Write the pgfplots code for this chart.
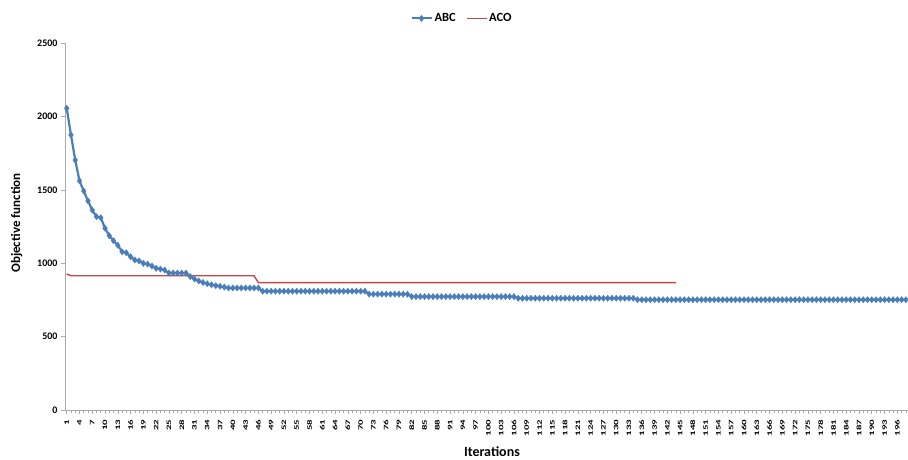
\documentclass[border=0pt]{standalone}
\usepackage{fontspec}
\setmainfont{Carlito}
\usepackage{graphicx}
\usepackage{pgfplots}
\pgfplotsset{compat=1.18}
\definecolor{abcblue}{RGB}{74,126,187}
\definecolor{acored}{RGB}{190,75,72}
\definecolor{axisgray}{RGB}{170,170,170}
\begin{document}
\begin{tikzpicture}
\useasboundingbox (-65pt,-49pt) rectangle (843pt,410pt);
\clip (-65pt,-49pt) rectangle (843pt,410pt);
\begin{axis}[
  at={(0pt,0pt)}, anchor=south west,
  scale only axis, width=843pt, height=366.7pt,
  xmin=0.6, xmax=198.5, ymin=0, ymax=2500,
  axis x line*=bottom, axis y line*=left,
  axis line style={axisgray, line width=0.8pt, -},
  tick align=outside,
  major tick length=4pt, minor tick length=3pt,
  tick style={axisgray, line width=0.6pt},
  xtick={1,4,...,196},
  minor xtick={1,...,198},
  ytick={0,500,...,2500},
  xticklabel={\scalebox{1.6}[1]{\pgfmathprintnumber{\tick}}},
  xticklabel style={rotate=90, anchor=east, font=\bfseries\fontsize{6.8}{7}\selectfont},
  xticklabel shift={2pt},
  yticklabel style={font=\bfseries\fontsize{10}{12}\selectfont},
  /pgf/number format/assume math mode=true,
  /pgf/number format/1000 sep={},
  ylabel={Objective function},
  ylabel style={at={(axis description cs:-0.0575,0.51)}, anchor=center, font=\bfseries\fontsize{13}{15}\selectfont},
  xlabel={Iterations},
  xlabel style={at={(axis description cs:0.5065,-0.1268)}, anchor=base, font=\bfseries\fontsize{14}{16}\selectfont},
  legend style={at={(axis description cs:0.471,1.068)}, anchor=center, draw=none, fill=none,
    font=\bfseries\fontsize{12.5}{14}\selectfont, /tikz/every even column/.append style={column sep=8pt}},
  legend columns=2,
  legend image code/.code={\draw[mark repeat=2,mark phase=2,#1] plot coordinates {(0pt,0pt) (10pt,0pt) (20pt,0pt)};},
  clip=true,
]
\addplot[color=abcblue, line width=2.2pt, mark=diamond*, mark size=3.2pt, mark options={fill=abcblue, draw=abcblue, line width=0.3pt}]
coordinates {
(1,2057) (2,1875) (3,1704) (4,1563) (5,1493) (6,1425) (7,1363) (8,1318) (9,1311) (10,1239)
(11,1188) (12,1154) (13,1123) (14,1079) (15,1072) (16,1045) (17,1023) (18,1016) (19,1000) (20,995)
(21,982) (22,966) (23,961) (24,954) (25,934) (26,934) (27,934) (28,934) (29,934) (30,910)
(31,893) (32,880) (33,869) (34,861) (35,854) (36,848) (37,843) (38,838) (39,832) (40,832)
(41,832) (42,832) (43,832) (44,832) (45,832) (46,832) (47,810) (48,810) (49,810) (50,810)
(51,810) (52,810) (53,810) (54,810) (55,810) (56,810) (57,810) (58,810) (59,810) (60,810)
(61,810) (62,810) (63,810) (64,810) (65,810) (66,810) (67,810) (68,810) (69,810) (70,810)
(71,810) (72,790) (73,790) (74,790) (75,790) (76,790) (77,790) (78,790) (79,790) (80,790)
(81,790) (82,773) (83,773) (84,773) (85,773) (86,773) (87,773) (88,773) (89,773) (90,773)
(91,773) (92,773) (93,773) (94,773) (95,773) (96,773) (97,773) (98,773) (99,773) (100,773)
(101,773) (102,773) (103,773) (104,773) (105,773) (106,773) (107,762) (108,762) (109,762) (110,762)
(111,762) (112,762) (113,762) (114,762) (115,762) (116,762) (117,762) (118,762) (119,762) (120,762)
(121,762) (122,762) (123,762) (124,762) (125,762) (126,762) (127,762) (128,762) (129,762) (130,762)
(131,762) (132,762) (133,762) (134,762) (135,752) (136,752) (137,752) (138,752) (139,752) (140,752)
(141,752) (142,752) (143,752) (144,752) (145,752) (146,752) (147,752) (148,752) (149,752) (150,752)
(151,752) (152,752) (153,752) (154,752) (155,752) (156,752) (157,752) (158,752) (159,752) (160,752)
(161,752) (162,752) (163,752) (164,752) (165,752) (166,752) (167,752) (168,752) (169,752) (170,752)
(171,752) (172,752) (173,752) (174,752) (175,752) (176,752) (177,752) (178,752) (179,752) (180,752)
(181,752) (182,752) (183,752) (184,752) (185,752) (186,752) (187,752) (188,752) (189,752) (190,752)
(191,752) (192,752) (193,752) (194,752) (195,752) (196,752) (197,752) (198,752) (199,752) (200,752)
};
\addlegendentry{ABC}
\addplot[color=acored, line width=1.4pt, mark=none]
coordinates {
(1,928) (2,915) (45,915) (46,868) (144,868)
};
\addlegendentry{ACO}
\end{axis}
\end{tikzpicture}
\end{document}
